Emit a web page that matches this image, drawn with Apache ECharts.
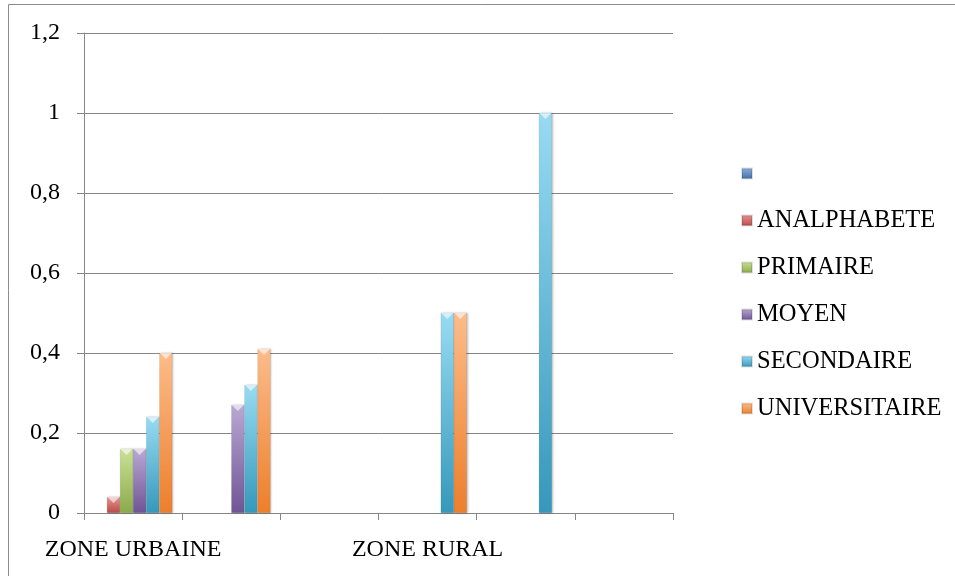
<!DOCTYPE html>
<html>
<head>
<meta charset="utf-8">
<script src="https://cdn.jsdelivr.net/npm/echarts@6/dist/echarts.min.js"></script>
<style>
  html, body { margin: 0; padding: 0; background: #fff; }
  #chart { width: 955px; height: 576px; }
</style>
</head>
<body>
<div id="chart"></div>
<script>
// Categories along the x axis (only two carry a visible label)
const categories = ['ZONE URBAINE', '', '', 'ZONE RURAL', '', ''];

// Series names, in legend order (the first one has a blank name)
const seriesNames = [' ', 'ANALPHABETE', 'PRIMAIRE', 'MOYEN', 'SECONDAIRE', 'UNIVERSITAIRE'];

// Values per education level, one per category (null = no bar)
const blank         = [null, null, null, null, null, null];
const analphabete   = [0.04, null, null, null, null, null];
const primaire      = [0.16, null, null, null, null, null];
const moyen         = [0.16, 0.27, null, null, null, null];
const secondaire    = [0.24, 0.32, null, 0.5, 1, null];
const universitaire = [0.4, 0.41, null, 0.5, null, null];

// Y axis tick range
const yMin = 0, yMax = 1.2, yStep = 0.2;

const seriesValues = [blank, analphabete, primaire, moyen, secondaire, universitaire];

// Light top / darker bottom shading for each series
const shades = [
  ['#8FB1DE', '#3F6FA8'],
  ['#E59593', '#B84A47'],
  ['#CBE197', '#8AAA49'],
  ['#B9A8D3', '#6F5495'],
  ['#98DBF2', '#3598BB'],
  ['#FCBC8A', '#EC7F2C']
];

const grad = (c) => new echarts.graphic.LinearGradient(0, 0, 0, 1, [
  { offset: 0, color: c[0] },
  { offset: 1, color: c[1] }
]);

const FONT = '"Liberation Serif", "DejaVu Serif", serif';

const barSeries = seriesNames.map((name, i) => ({
  name: name,
  type: 'bar',
  barGap: '0%',
  barCategoryGap: '20%',
  data: seriesValues[i],
  itemStyle: {
    color: grad(shades[i]),
    borderColor: 'rgba(0,0,0,0.12)',
    borderWidth: 0.5,
    shadowColor: 'rgba(0,0,0,0.25)',
    shadowBlur: 2,
    shadowOffsetX: 1
  }
}));

// Small bevel triangles capping each bar
const bevelSeries = seriesNames.map((name, i) => ({
  name: name,
  type: 'pictorialBar',
  barGap: '0%',
  barCategoryGap: '20%',
  symbol: 'triangle',
  symbolRotate: 180,
  symbolSize: ['90%', 6],
  symbolPosition: 'end',
  symbolOffset: [0, 0],
  z: 3,
  data: seriesValues[i],
  itemStyle: { color: 'rgba(255,255,255,0.6)' }
}));

const chart = echarts.init(document.getElementById('chart'), null, { renderer: 'canvas' });

chart.setOption({
  animation: false,
  backgroundColor: '#ffffff',
  textStyle: { fontFamily: FONT },
  graphic: [{
    type: 'rect',
    shape: { x: 8.5, y: 4.5, width: 1200, height: 1200 },
    style: { fill: 'none', stroke: '#8c8c8c', lineWidth: 1 },
    silent: true
  }],
  grid: { left: 84, right: 282, top: 33, bottom: 63 },
  legend: {
    orient: 'vertical',
    left: 741,
    top: 161,
    padding: 0,
    data: seriesNames,
    icon: 'rect',
    itemWidth: 10,
    itemHeight: 10,
    itemGap: 22,
    textStyle: { fontFamily: FONT, fontSize: 24.5, color: '#000', lineHeight: 25 },
    selectedMode: false
  },
  xAxis: {
    type: 'category',
    data: categories,
    axisLine: { lineStyle: { color: '#868686' } },
    axisTick: { show: true, length: 7, interval: 0, lineStyle: { color: '#868686' } },
    axisLabel: { interval: 0, margin: 25, fontFamily: FONT, fontSize: 24, color: '#000' },
    splitLine: { show: false }
  },
  yAxis: {
    type: 'value',
    min: yMin,
    max: yMax,
    interval: yStep,
    axisLine: { show: true, lineStyle: { color: '#868686' } },
    axisTick: { show: true, length: 7, lineStyle: { color: '#868686' } },
    axisLabel: {
      margin: 24,
      fontFamily: FONT,
      fontSize: 24,
      color: '#000',
      formatter: (v) => String(Math.round(v * 10) / 10).replace('.', ',')
    },
    splitLine: { lineStyle: { color: '#868686' } }
  },
  series: barSeries.concat(bevelSeries)
});
</script>
</body>
</html>
